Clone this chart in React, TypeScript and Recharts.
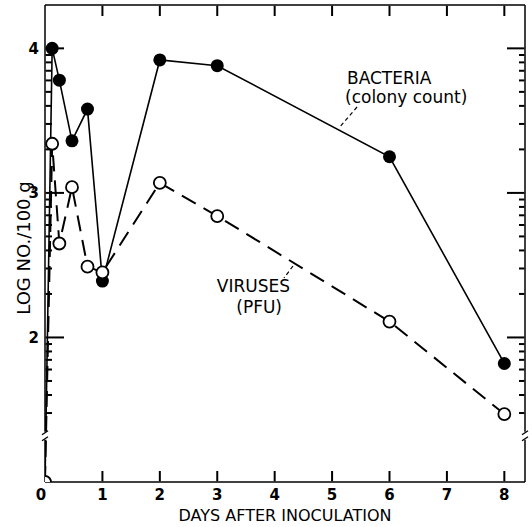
import { LineChart, Line, XAxis, YAxis, ReferenceLine, ReferenceDot } from 'recharts';

// days after inoculation
const days = [0, 0.125, 0.25, 0.47, 0.74, 1, 2, 3, 6, 8];
// log number per 100 g (0 = below detection, drawn on the broken axis)
const bacteria = [0, 4.0, 3.78, 3.36, 3.58, 2.39, 3.92, 3.88, 3.25, 1.82];
const viruses = [0, 3.34, 2.65, 3.04, 2.49, 2.45, 3.07, 2.84, 2.11, 1.47];

const dayTicks = [0, 1, 2, 3, 4, 5, 6, 7, 8];
const majorLogTicks = [2, 3, 4];
const decades = [1, 2, 3];

const Y_MIN = 1;
const Y_MAX = 4.3;
const X_MAX = 8.36;
const BREAK = 1.32;

const font = "'DejaVu Sans', sans-serif";

// values below the axis break sit on the bottom of the axis
const atAxis = (v: number) => (v < BREAK ? Y_MIN : v);

const data = days.map((d, i) => ({
  day: d,
  bacteria: atAxis(bacteria[i]),
  viruses: atAxis(viruses[i]),
}));

const minorTicks = decades
  .flatMap(d => [2, 3, 4, 5, 6, 7, 8, 9].map(k => d + Math.log10(k)))
  .filter(v => v > BREAK + 0.1 && v < Y_MAX);
const frameTicks = [...majorLogTicks, ...minorTicks].sort((a, b) => a - b);
const logTicks = [...frameTicks, BREAK].sort((a, b) => a - b);

// tick lengths in data units (about 57.4 px per day, 144.5 px per log unit)
const majorLenX = 19 / 57.4;
const minorLenX = 7 / 57.4;
const rightMajorLen = 18 / 57.4;
const rightMinorLen = 6 / 57.4;
const lenY = 11 / 144.5;
// keep the tick segments just inside the frame
const inX = 0.01;
const inY = 0.005;

const AxisBreak = ({ x, y }: { x: number; y: number }) => (
  <g>
    <rect x={x - 4} y={y - 4} width={8} height={8} fill="#fff" />
    <line x1={x - 3} y1={y - 1} x2={x + 3} y2={y - 5} stroke="#000" strokeWidth={1.4} />
    <line x1={x - 3} y1={y + 5} x2={x + 3} y2={y + 1} stroke="#000" strokeWidth={1.4} />
  </g>
);

const LeftTick = (props: any) => {
  const { x, y, payload } = props;
  const v = payload.value;
  if (v === BREAK) return <AxisBreak x={x} y={y} />;
  if (!majorLogTicks.includes(v)) return <g />;
  return (
    <text x={x - 6} y={y} dy="0.36em" textAnchor="end" fontFamily={font} fontWeight="bold" fontSize={15} fill="#000">
      {v}
    </text>
  );
};

const BottomTick = (props: any) => {
  const { x, y, payload } = props;
  const v = payload.value;
  return (
    <text x={v === 0 ? x - 4 : x} y={y + 18} textAnchor="middle" fontFamily={font} fontWeight="bold" fontSize={15} fill="#000">
      {v}
    </text>
  );
};

const BreakShape = (props: any) => <AxisBreak x={props.cx} y={props.cy} />;

const FilledDot = (props: any) => (
  <circle key={`b-${props.index}`} cx={props.cx} cy={props.cy} r={6.5} fill="#000" />
);

const OpenDot = (props: any) => {
  const { cx, cy, index, payload } = props;
  if (payload.day === 0) {
    return (
      <g key={`v-${index}`}>
        <circle cx={cx} cy={cy} r={6} fill="#fff" stroke="#000" strokeWidth={1.8} />
        <path d={`M${cx},${cy - 6} A6,6 0 0 0 ${cx},${cy + 6} Z`} fill="#000" />
      </g>
    );
  }
  return <circle key={`v-${index}`} cx={cx} cy={cy} r={6} fill="#fff" stroke="#000" strokeWidth={1.8} />;
};

const tickLine = { stroke: '#000', strokeWidth: 2, ifOverflow: 'visible' as const };

export default function App() {
  return (
    <div style={{ position: 'absolute', left: 0, top: 0, width: 532, height: 527, background: '#fff' }}>
      <svg width={532} height={527} style={{ position: 'absolute', left: 0, top: 0 }}>
        <g fontFamily={font} fill="#000" fontSize={17}>
          <text x={347} y={84}>BACTERIA</text>
          <text x={345} y={103}>(colony count)</text>
          <text x={290} y={292} textAnchor="end">VIRUSES</text>
          <text x={282} y={313} textAnchor="end">(PFU)</text>
          <text x={285} y={521} textAnchor="middle" fontSize={16}>DAYS AFTER INOCULATION</text>
          <text x={30} y={248} textAnchor="middle" fontSize={18} transform="rotate(-90 30 248)">LOG NO./100 g</text>
        </g>
        <line x1={357} y1={107} x2={339} y2={128} stroke="#000" strokeWidth={1.2} strokeDasharray="4 3" />
        <line x1={293} y1={266} x2={284} y2={278} stroke="#000" strokeWidth={1.2} strokeDasharray="4 3" />
      </svg>
      <div style={{ position: 'relative', zIndex: 1 }}>
        <LineChart width={532} height={527} data={data} margin={{ top: 5, right: 7, bottom: 0, left: 0 }}>
          <XAxis
            dataKey="day"
            type="number"
            domain={[0, X_MAX]}
            ticks={dayTicks}
            interval={0}
            height={45}
            tickSize={0}
            tickMargin={0}
            axisLine={{ stroke: '#000', strokeWidth: 1.5 }}
            tick={<BottomTick />}
            allowDataOverflow
          />
          <YAxis
            type="number"
            domain={[Y_MIN, Y_MAX]}
            ticks={logTicks}
            interval={0}
            width={45}
            tickSize={0}
            tickMargin={0}
            axisLine={{ stroke: '#000', strokeWidth: 1.5 }}
            tick={<LeftTick />}
            allowDataOverflow
          />
          {/* top and right frame */}
          <ReferenceLine y={Y_MAX} stroke="#000" strokeWidth={1.5} ifOverflow="visible" />
          <ReferenceLine x={X_MAX} stroke="#000" strokeWidth={1.5} ifOverflow="visible" />
          {/* inward ticks, left and right */}
          {frameTicks.map(v => (
            <ReferenceLine
              key={`lt-${v}`}
              segment={[{ x: inX, y: v }, { x: majorLogTicks.includes(v) ? majorLenX : minorLenX, y: v }]}
              {...tickLine}
            />
          ))}
          {frameTicks.map(v => (
            <ReferenceLine
              key={`rt-${v}`}
              segment={[{ x: X_MAX - (majorLogTicks.includes(v) ? rightMajorLen : rightMinorLen), y: v }, { x: X_MAX - inX, y: v }]}
              {...tickLine}
            />
          ))}
          {/* inward ticks, bottom and top */}
          {dayTicks
            .filter(d => d > 0)
            .map(d => (
              <ReferenceLine key={`bt-${d}`} segment={[{ x: d, y: Y_MIN + inY }, { x: d, y: Y_MIN + lenY }]} {...tickLine} />
            ))}
          {dayTicks
            .filter(d => d > 0)
            .map(d => (
              <ReferenceLine key={`tt-${d}`} segment={[{ x: d, y: Y_MAX - lenY }, { x: d, y: Y_MAX - inY }]} {...tickLine} />
            ))}
          <ReferenceDot x={X_MAX} y={BREAK} r={4} shape={BreakShape} ifOverflow="visible" />
          <Line
            dataKey="bacteria"
            stroke="#000"
            strokeWidth={1.6}
            dot={FilledDot}
            activeDot={false}
            isAnimationActive={false}
          />
          <Line
            dataKey="viruses"
            stroke="#000"
            strokeWidth={2}
            strokeDasharray="16 9"
            dot={OpenDot}
            activeDot={false}
            isAnimationActive={false}
          />
        </LineChart>
      </div>
    </div>
  );
}
